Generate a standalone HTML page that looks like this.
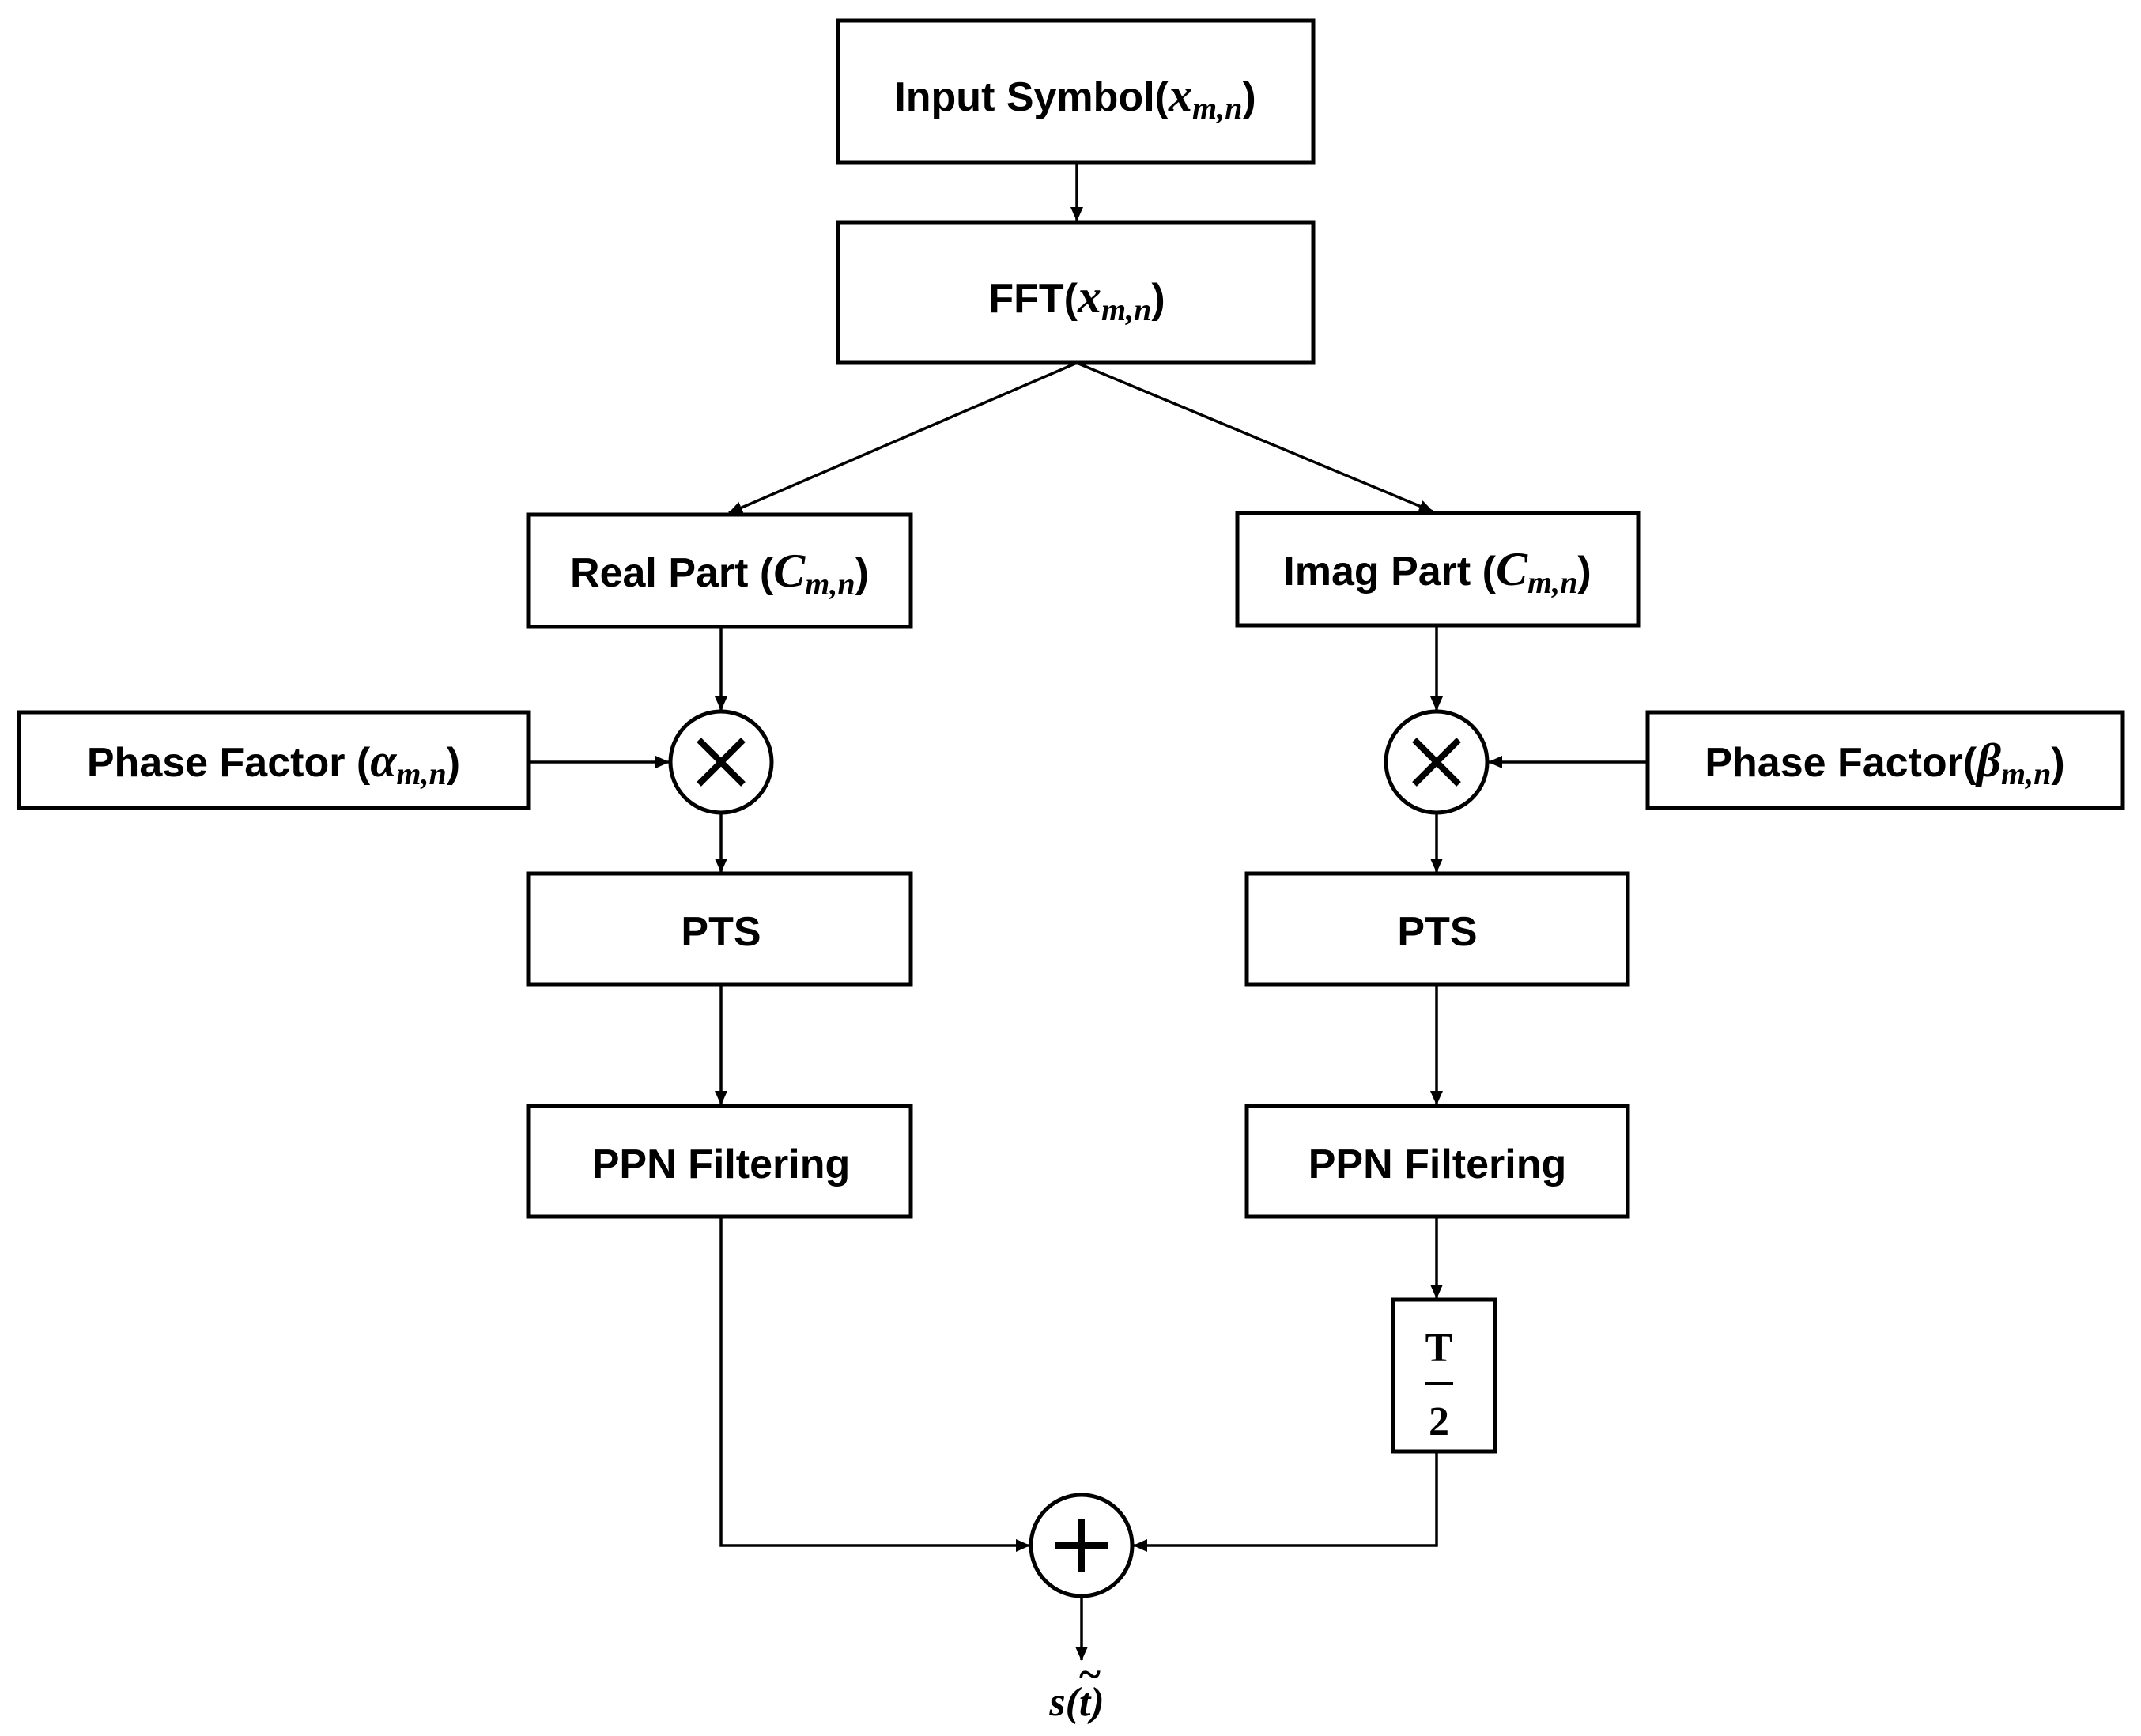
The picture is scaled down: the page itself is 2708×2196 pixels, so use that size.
<!DOCTYPE html>
<html><head><meta charset="utf-8"><style>
html,body{margin:0;padding:0;background:#fff;}
svg{display:block;}
text{font-family:"Liberation Sans",sans-serif;font-weight:bold;font-size:52px;fill:#000;}
.m{font-family:"Liberation Serif",serif;font-style:italic;font-weight:bold;}
</style></head><body>
<svg width="2708" height="2196" viewBox="0 0 2708 2196" xmlns="http://www.w3.org/2000/svg">
<defs>
<marker id="a" markerWidth="18" markerHeight="18" refX="17" refY="9" orient="auto" markerUnits="userSpaceOnUse" viewBox="0 0 18 18">
<path d="M0,1 L18,9 L0,17 z" fill="#000"/></marker>
</defs>
<g fill="none" stroke="#000" stroke-width="5">
<rect x="1060" y="26" width="601" height="180"/>
<rect x="1060" y="281" width="601" height="178"/>
<rect x="668" y="651" width="484" height="142"/>
<rect x="1565" y="649" width="507" height="142"/>
<rect x="24" y="901" width="644" height="121"/>
<rect x="2084" y="901" width="601" height="121"/>
<circle cx="912" cy="964" r="64"/>
<circle cx="1817" cy="964" r="64"/>
<rect x="668" y="1105" width="484" height="140"/>
<rect x="1577" y="1105" width="482" height="140"/>
<rect x="668" y="1399" width="484" height="140"/>
<rect x="1577" y="1399" width="482" height="140"/>
<rect x="1762" y="1644" width="129" height="192"/>
<circle cx="1368" cy="1955" r="64"/>
</g>
<g stroke="#000" stroke-width="3.5" fill="none">
<line x1="1362" y1="206" x2="1362" y2="279" marker-end="url(#a)"/>
<line x1="1362" y1="459" x2="922" y2="649" marker-end="url(#a)"/>
<line x1="1362" y1="459" x2="1812" y2="647" marker-end="url(#a)"/>
<line x1="912" y1="793" x2="912" y2="898" marker-end="url(#a)"/>
<line x1="1817" y1="791" x2="1817" y2="898" marker-end="url(#a)"/>
<line x1="668" y1="964" x2="846" y2="964" marker-end="url(#a)"/>
<line x1="2084" y1="964" x2="1883" y2="964" marker-end="url(#a)"/>
<line x1="912" y1="1028" x2="912" y2="1103" marker-end="url(#a)"/>
<line x1="1817" y1="1028" x2="1817" y2="1103" marker-end="url(#a)"/>
<line x1="912" y1="1245" x2="912" y2="1397" marker-end="url(#a)"/>
<line x1="1817" y1="1245" x2="1817" y2="1397" marker-end="url(#a)"/>
<line x1="1817" y1="1539" x2="1817" y2="1642" marker-end="url(#a)"/>
<polyline points="912,1539 912,1955 1302,1955" marker-end="url(#a)"/>
<polyline points="1817,1836 1817,1955 1434,1955" marker-end="url(#a)"/>
<line x1="1368" y1="2019" x2="1368" y2="2100" marker-end="url(#a)"/>
</g>
<g stroke="#000" stroke-width="8">
<line x1="884" y1="936" x2="940" y2="992"/><line x1="940" y1="936" x2="884" y2="992"/>
<line x1="1789" y1="936" x2="1845" y2="992"/><line x1="1845" y1="936" x2="1789" y2="992"/>
<line x1="1368" y1="1922" x2="1368" y2="1988"/><line x1="1335" y1="1955" x2="1401" y2="1955"/>
</g>
<text x="1360" y="140" text-anchor="middle">Input Symbol(<tspan class="m" font-size="60">x</tspan><tspan class="m" font-size="40" dy="10">m,n</tspan><tspan dy="-10">)</tspan></text>
<text x="1362" y="395" text-anchor="middle">FFT(<tspan class="m" font-size="60">x</tspan><tspan class="m" font-size="40" dy="10">m,n</tspan><tspan dy="-10">)</tspan></text>
<text x="910" y="742" text-anchor="middle">Real Part (<tspan class="m" font-size="60">C</tspan><tspan class="m" font-size="40" dy="10">m,n</tspan><tspan dy="-10">)</tspan></text>
<text x="1818" y="740" text-anchor="middle">Imag Part (<tspan class="m" font-size="60">C</tspan><tspan class="m" font-size="40" dy="10">m,n</tspan><tspan dy="-10">)</tspan></text>
<text x="346" y="982" text-anchor="middle">Phase Factor (<tspan class="m" font-size="60">α</tspan><tspan class="m" font-size="40" dy="10">m,n</tspan><tspan dy="-10">)</tspan></text>
<text x="2384" y="982" text-anchor="middle">Phase Factor(<tspan class="m" font-size="60">β</tspan><tspan class="m" font-size="40" dy="10">m,n</tspan><tspan dy="-10">)</tspan></text>
<text x="912" y="1196" text-anchor="middle">PTS</text>
<text x="1818" y="1196" text-anchor="middle">PTS</text>
<text x="912" y="1490" text-anchor="middle">PPN Filtering</text>
<text x="1818" y="1490" text-anchor="middle">PPN Filtering</text>
<text x="1820" y="1722" text-anchor="middle" class="m" style="font-style:normal" font-size="58">T</text>
<line x1="1802" y1="1750" x2="1838" y2="1750" stroke="#000" stroke-width="4"/>
<text x="1820" y="1815" text-anchor="middle" class="m" style="font-style:normal" font-size="58">2</text>
<text x="1362" y="2170" text-anchor="middle" class="m" font-size="60">s(t)</text>
<text x="1378" y="2135" text-anchor="middle" class="m" font-size="48">~</text>
</svg>
</body></html>
